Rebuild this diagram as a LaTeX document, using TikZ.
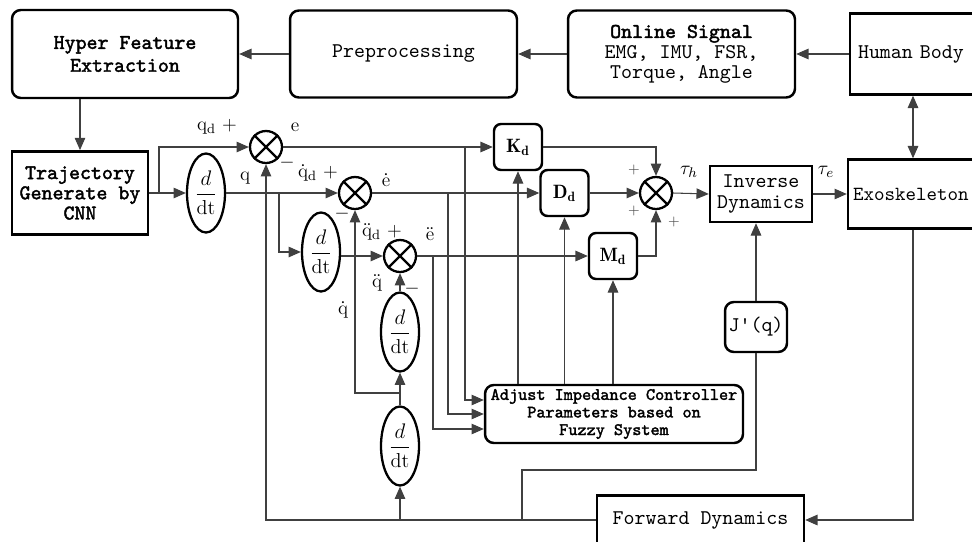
\documentclass[tikz,border=0pt]{standalone}
\usepackage{amsmath}
\usepackage{fontspec}
\setmonofont{lmmono10-regular.otf}[BoldFont=lmmono10-regular.otf, BoldFeatures={FakeBold=2}]
\usetikzlibrary{arrows.meta,positioning,shapes.geometric,calc}

\newcommand{\bxfont}{\ttfamily\fontsize{11.9}{13}\selectfont}

\begin{document}
\begin{tikzpicture}[x=0.02cm, y=-0.02cm,
    box/.style={draw, line width=1.4pt, rounded corners=5pt, font=\bxfont, align=center, inner sep=2pt},
    sqbox/.style={box, sharp corners},
    gain/.style={box, rounded corners=4pt, font=\fontsize{11}{13}\selectfont,
                 minimum width=0.96cm, minimum height=0.92cm},
    ddt/.style={draw, ellipse, line width=1.3pt, inner sep=0pt, minimum width=0.76cm,
                minimum height=1.58cm, font=\fontsize{11.5}{13}\selectfont},
    sum/.style={draw, circle, line width=1.3pt, minimum size=0.64cm, inner sep=0pt},
    arrow/.style={-{Triangle[length=7pt,width=6pt]}, line width=0.6pt, color=black!75},
    biarrow/.style={{Triangle[length=7pt,width=6pt]}-{Triangle[length=7pt,width=6pt]}, line width=0.6pt, color=black!75},
    wire/.style={line width=0.6pt, color=black!75},
    lbl/.style={font=\fontsize{11}{13}\selectfont, inner sep=0pt}
]
\useasboundingbox (0,0) rectangle (972,541);

%% Signal acquisition row
\node[box, minimum width=4.52cm, minimum height=1.76cm, font=\bxfont\bfseries] (hyper) at (125,54) {Hyper Feature\\Extraction};
\node[box, minimum width=4.54cm, minimum height=1.74cm] (prep) at (403.5,54) {Preprocessing};
\node[box, minimum width=4.54cm, minimum height=1.74cm, font=\ttfamily\fontsize{11.9}{11.5}\selectfont] (online) at (681.5,54) {\textbf{Online Signal}\\EMG, IMU, FSR,\\Torque, Angle};
\node[sqbox, minimum height=1.62cm, text width=2.48cm, align=left, inner xsep=0.16cm] (human) at (920,54) {Human Body};
\node[sqbox, minimum height=1.38cm, text width=2.6cm, align=left, inner xsep=0.1cm, font=\ttfamily\fontsize{11.4}{13}\selectfont] (exo) at (918,194) {Exoskeleton};

%% Trajectory and derivatives
\node[sqbox, line width=1.6pt, minimum width=2.72cm, minimum height=1.66cm, font=\ttfamily\bfseries\fontsize{11.9}{11.5}\selectfont] (traj) at (80,193) {Trajectory\\Generate by\\CNN};
\node[ddt] (d1) at (206,193) {$\displaystyle\frac{d}{\mathrm{dt}}$};
\node[ddt] (d2) at (321,252) {$\displaystyle\frac{d}{\mathrm{dt}}$};
\node[ddt] (d3) at (400,332) {$\displaystyle\frac{d}{\mathrm{dt}}$};
\node[ddt] (d4) at (400,446) {$\displaystyle\frac{d}{\mathrm{dt}}$};

%% Summing junctions
\node[sum] (s1) at (266,147) {};
\node[sum] (s2) at (355,193) {};
\node[sum] (s3) at (400,256) {};
\node[sum] (s4) at (656,193) {};
\foreach \s in {s1,s2,s3,s4}
  \draw[line width=1.3pt] (\s.north east) -- (\s.south west) (\s.north west) -- (\s.south east);

%% Impedance gains
\node[gain] (kd) at (518,147) {$\mathbf{K_d}$};
\node[gain] (dd) at (564.5,193) {$\mathbf{D_d}$};
\node[gain] (md) at (613,256) {$\mathbf{M_d}$};
\node[sqbox, minimum width=2.04cm, minimum height=1.12cm, font=\ttfamily\fontsize{11.9}{11.5}\selectfont] (inv) at (761,194) {Inverse\\Dynamics};
\node[box, minimum width=1.24cm, minimum height=1.0cm] (jq) at (756,327) {J'(q)};
\node[box, minimum width=5.16cm, minimum height=1.16cm, font=\ttfamily\bfseries\fontsize{9.9}{10}\selectfont] (adj) at (614,414) {Adjust Impedance Controller\\Parameters based on\\Fuzzy System};
\node[sqbox, minimum width=4.14cm, minimum height=0.98cm] (fwd) at (700.5,520) {Forward Dynamics};

%% Signal labels
\node[lbl] (lqd) at (217,127) {$\mathrm{q}_{\mathrm{d}}$ +};
\node[lbl] (le) at (295,127) {e};
\node[lbl] (lm1) at (287,163) {$-$};
\node[lbl] (lq) at (245,178) {q};
\node[lbl] (lqdd) at (318,173) {$\dot{\mathrm{q}}_{\mathrm{d}}$ +};
\node[lbl] (led) at (386,180) {$\dot{\mathrm{e}}$};
\node[lbl] (lm2) at (342,214) {$-$};
\node[lbl] (lqddd) at (382,232) {$\ddot{\mathrm{q}}_{\mathrm{d}}$ +};
\node[lbl] (ledd) at (430,234) {$\ddot{\mathrm{e}}$};
\node[lbl] (lqa) at (377,283) {$\ddot{\mathrm{q}}$};
\node[lbl] (lm3) at (412,289) {$-$};
\node[lbl] (lqv) at (343,310) {$\dot{\mathrm{q}}$};
\node[lbl, font=\footnotesize, color=black!70] (lp1) at (634,170) {+};
\node[lbl, font=\footnotesize, color=black!70] (lp2) at (634,211) {+};
\node[lbl, font=\footnotesize, color=black!70] (lp3) at (674,222) {+};
\node[lbl] (lth) at (689,172) {$\tau_{h}$};
\node[lbl] (lte) at (826,172) {$\tau_{e}$};

%% Branch points
\coordinate (b1) at (159,193);
\coordinate (b2) at (279,193);
\coordinate (be) at (465,147);
\coordinate (bed) at (448,193);
\coordinate (bedd) at (433,256);
\coordinate (bqd) at (400,393);
\coordinate (bj) at (522,520);

%% Top row arrows
\draw[arrow] (human.west) -- (human.west -| online.east);
\draw[arrow] (online) -- (prep);
\draw[arrow] (prep) -- (hyper);
\draw[arrow] (hyper.south -| traj.north) -- (traj.north);
\draw[biarrow] ($(human.south)+(-7,0)$) -- ($(exo.north)+(-5,0)$);
\draw[arrow] ($(exo.south)+(-5,0)$) |- (fwd.east);

%% Reference and errors
\draw[arrow] (traj.east) -- (d1.west);
\draw[arrow] (b1) |- (s1.west);
\draw[arrow] (d1.east) -- (s2.west);
\draw[arrow] (b2) |- (d2.west);
\draw[arrow] (d2.east |- s3.west) -- (s3.west);
\draw[arrow] (s1.east) -- (kd.west);
\draw[arrow] (s2.east) -- (dd.west);
\draw[arrow] (s3.east) -- (md.west);
\draw[arrow] (be) |- ($(adj.west)+(0,-14)$);
\draw[arrow] (bed) |- (adj.west);
\draw[arrow] (bedd) |- ($(adj.west)+(0,15)$);

%% Gains to torque
\draw[arrow] (adj.north -| kd.south) -- (kd.south);
\draw[arrow] (adj.north -| dd.south) -- (dd.south);
\draw[arrow] (adj.north -| md.south) -- (md.south);
\draw[arrow] (kd.east) -| (s4.north);
\draw[arrow] (dd.east) -- (s4.west);
\draw[arrow] (md.east) -| (s4.south);
\draw[arrow] (s4.east) -- (inv.west);
\draw[arrow] (inv.east) -- (inv.east -| exo.west);
\draw[arrow] (jq.north) -- (jq.north |- inv.south);

%% Feedback
\draw[arrow] (fwd.west) -| (s1.south);
\draw[arrow] (d4.south |- fwd.west) -- (d4.south);
\draw[arrow] (d4.north) -- (d3.south);
\draw[arrow] (bqd) -| (s2.south);
\draw[arrow] (d3.north) -- (s3.south);
\draw[wire] (bj) -- ++(0,-50) -| (jq.south);

\end{tikzpicture}
\end{document}
